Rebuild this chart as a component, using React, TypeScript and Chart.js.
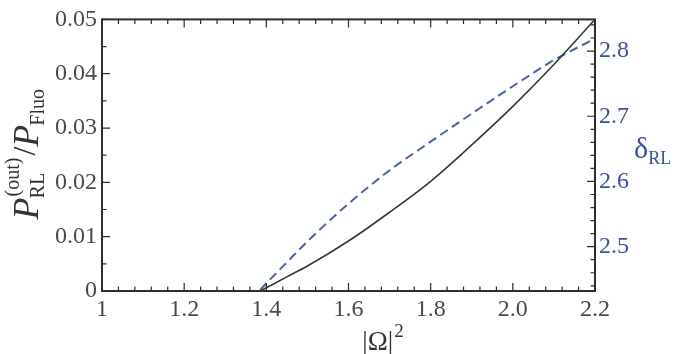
import React, { useEffect, useRef } from "react";
import { Chart, registerables } from "chart.js";

Chart.register(...registerables);

// |Omega|^2 values and P_RL(out)/P_Fluo (solid black curve, left axis)
const omegaSolid = [1.385, 1.45, 1.5, 1.6, 1.7, 1.8, 1.9, 2.0, 2.1, 2.2];
const powerRatio = [0, 0.0026, 0.0046, 0.0092, 0.0145, 0.0202, 0.0269, 0.034, 0.0417, 0.05];

// |Omega|^2 values and delta_RL (dashed blue curve, right axis)
const omegaDashed = [1.385, 1.45, 1.5, 1.6, 1.7, 1.8, 1.9, 2.0, 2.1, 2.2];
const deltaRL = [2.434, 2.476, 2.508, 2.566, 2.617, 2.661, 2.704, 2.746, 2.786, 2.819];

// tick values / labels
const xTicks = [1, 1.2, 1.4, 1.6, 1.8, 2.0, 2.2];
const xTickLabels = ["1", "1.2", "1.4", "1.6", "1.8", "2.0", "2.2"];
const leftTicks = [0, 0.01, 0.02, 0.03, 0.04, 0.05];
const leftTickLabels = ["0", "0.01", "0.02", "0.03", "0.04", "0.05"];
const rightTicks = [2.5, 2.6, 2.7, 2.8];
const rightTickLabels = ["2.5", "2.6", "2.7", "2.8"];

const X_MIN = 1;
const X_MAX = 2.2;
const X_MINOR_STEP = 0.04;
const L_MIN = 0;
const L_MAX = 0.05;
const L_MINOR_STEP = 0.005;
const R_MIN = 2.432;
const R_MAX = 2.8485;
const R_MINOR_FROM = 2.44;
const R_MINOR_TO = 2.84;
const R_MINOR_STEP = 0.02;

const SERIF = "'Liberation Serif', 'DejaVu Serif', 'Times New Roman', serif";
const GRAY_TEXT = "#4a4a4a";
const BLUE_TEXT = "#3a4fb3";
const FRAME = "#2e2e2e";

function minorValues(from: number, to: number, step: number) {
  const out: number[] = [];
  const n = Math.round((to - from) / step);
  for (let i = 0; i <= n; i++) out.push(from + i * step);
  return out;
}

const framePlugin = {
  id: "frameTicks",
  afterDatasetsDraw(chart: any) {
    const { ctx, chartArea: a, scales } = chart;
    const xs = scales.x;
    const yl = scales.yL;
    const yr = scales.yR;
    ctx.save();
    ctx.strokeStyle = FRAME;
    ctx.lineWidth = 1.2;
    const MAJ = 8;
    const MIN = 4.5;
    ctx.beginPath();
    for (const v of minorValues(X_MIN, X_MAX, X_MINOR_STEP)) {
      const px = xs.getPixelForValue(v);
      ctx.moveTo(px, a.bottom);
      ctx.lineTo(px, a.bottom - MIN);
      ctx.moveTo(px, a.top);
      ctx.lineTo(px, a.top + MIN);
    }
    for (const v of xTicks) {
      const px = xs.getPixelForValue(v);
      ctx.moveTo(px, a.bottom);
      ctx.lineTo(px, a.bottom - MAJ);
      ctx.moveTo(px, a.top);
      ctx.lineTo(px, a.top + MAJ);
    }
    for (const v of minorValues(L_MIN, L_MAX, L_MINOR_STEP)) {
      const py = yl.getPixelForValue(v);
      ctx.moveTo(a.left, py);
      ctx.lineTo(a.left + MIN, py);
    }
    for (const v of leftTicks) {
      const py = yl.getPixelForValue(v);
      ctx.moveTo(a.left, py);
      ctx.lineTo(a.left + MAJ, py);
    }
    for (const v of minorValues(R_MINOR_FROM, R_MINOR_TO, R_MINOR_STEP)) {
      const py = yr.getPixelForValue(v);
      ctx.moveTo(a.right, py);
      ctx.lineTo(a.right - MIN, py);
    }
    for (const v of rightTicks) {
      const py = yr.getPixelForValue(v);
      ctx.moveTo(a.right, py);
      ctx.lineTo(a.right - MAJ, py);
    }
    ctx.stroke();
    ctx.lineWidth = 2;
    ctx.strokeRect(a.left, a.top, a.right - a.left, a.bottom - a.top);
    ctx.restore();
  },
  afterDraw(chart: any) {
    const { ctx, chartArea: a } = chart;
    ctx.save();
    ctx.textBaseline = "alphabetic";
    ctx.textAlign = "left";

    // Left title: P_RL^(out) / P_Fluo  (rotated)
    const big = `italic 36px ${SERIF}`;
    const small = `20px ${SERIF}`;
    const slashFont = `32px ${SERIF}`;
    ctx.font = big;
    const wP = ctx.measureText("P").width;
    ctx.font = small;
    const wRL = ctx.measureText("RL").width;
    const wOut = ctx.measureText("(out)").width;
    const wFluo = ctx.measureText("Fluo").width;
    ctx.font = slashFont;
    const wSlash = ctx.measureText("/").width;
    const total = wP - 1 + Math.max(wRL, wOut + 2) + 2 + wSlash + wP - 1 + wFluo;
    const cy = (a.top + a.bottom) / 2 - 1;
    ctx.save();
    ctx.translate(38, cy);
    ctx.rotate(-Math.PI / 2);
    ctx.fillStyle = "#333";
    const x0 = -total / 2;
    ctx.font = big;
    ctx.fillText("P", x0, 0);
    const subX = x0 + wP - 1;
    ctx.font = small;
    ctx.fillText("RL", subX, 6);
    ctx.fillText("(out)", subX + 2, -19);
    let nx = subX + Math.max(wRL, wOut + 2) + 2;
    ctx.font = slashFont;
    ctx.fillText("/", nx, -3);
    nx += wSlash;
    ctx.font = big;
    ctx.fillText("P", nx, 0);
    nx += wP - 1;
    ctx.font = small;
    ctx.fillText("Fluo", nx, 6);
    ctx.restore();

    // Bottom title: |Ω|²
    const bFont = `27px ${SERIF}`;
    const bSup = `19px ${SERIF}`;
    ctx.font = bFont;
    const wO = ctx.measureText("|Ω|").width;
    ctx.font = bSup;
    const w2 = ctx.measureText("2").width;
    const bx = 383 - (wO + w2 + 1) / 2;
    ctx.fillStyle = "#333";
    ctx.font = bFont;
    ctx.fillText("|Ω|", bx, 350);
    ctx.font = bSup;
    ctx.fillText("2", bx + wO + 1, 337);

    // Right title: δ_RL
    ctx.fillStyle = BLUE_TEXT;
    ctx.font = `30px ${SERIF}`;
    const wd = ctx.measureText("δ").width;
    ctx.fillText("δ", 634, 158);
    ctx.font = `18px ${SERIF}`;
    ctx.fillText("RL", 634 + wd, 164);
    ctx.restore();
  },
};

export default function App() {
  const ref = useRef<HTMLCanvasElement | null>(null);
  useEffect(() => {
    if (!ref.current) return;
    const chart = new Chart(ref.current, {
      type: "line",
      data: {
        datasets: [
          {
            label: "P_RL/P_Fluo",
            data: omegaSolid.map((x, i) => ({ x, y: powerRatio[i] })),
            yAxisID: "yL",
            borderColor: "#383838",
            borderWidth: 1.6,
            pointRadius: 0,
            cubicInterpolationMode: "monotone",
            fill: false,
          },
          {
            label: "delta_RL",
            data: omegaDashed.map((x, i) => ({ x, y: deltaRL[i] })),
            yAxisID: "yR",
            borderColor: "#4561c4",
            borderWidth: 2,
            borderDash: [9, 5],
            pointRadius: 0,
            cubicInterpolationMode: "monotone",
            fill: false,
          },
        ],
      },
      options: {
        animation: false,
        responsive: true,
        maintainAspectRatio: false,
        layout: { padding: { top: 10, left: 0, right: 0, bottom: 0 } },
        plugins: {
          legend: { display: false },
          tooltip: { enabled: false },
        },
        scales: {
          x: {
            type: "linear",
            min: X_MIN,
            max: X_MAX,
            afterBuildTicks: (s: any) => {
              s.ticks = xTicks.map((v) => ({ value: v }));
            },
            afterFit: (s: any) => {
              s.height = 63;
            },
            grid: { display: false, drawTicks: false },
            border: { display: false },
            ticks: {
              padding: 4,
              maxRotation: 0,
              autoSkip: false,
              color: GRAY_TEXT,
              font: { family: SERIF, size: 24 },
              callback: (_v: any, i: number) => xTickLabels[i],
            },
          },
          yL: {
            type: "linear",
            position: "left",
            min: L_MIN,
            max: L_MAX,
            afterBuildTicks: (s: any) => {
              s.ticks = leftTicks.map((v) => ({ value: v }));
            },
            afterFit: (s: any) => {
              s.width = 102;
            },
            grid: { display: false, drawTicks: false },
            border: { display: false },
            ticks: {
              padding: 5,
              autoSkip: false,
              color: GRAY_TEXT,
              font: { family: SERIF, size: 24 },
              callback: (_v: any, i: number) => leftTickLabels[i],
            },
          },
          yR: {
            type: "linear",
            position: "right",
            min: R_MIN,
            max: R_MAX,
            afterBuildTicks: (s: any) => {
              s.ticks = rightTicks.map((v) => ({ value: v }));
            },
            afterFit: (s: any) => {
              s.width = 88;
            },
            grid: { display: false, drawTicks: false },
            border: { display: false },
            ticks: {
              padding: 4,
              autoSkip: false,
              color: BLUE_TEXT,
              font: { family: SERIF, size: 24 },
              callback: (_v: any, i: number) => rightTickLabels[i],
            },
          },
        },
      },
      plugins: [framePlugin],
    });
    return () => chart.destroy();
  }, []);
  return (
    <div style={{ position: "absolute", left: 0, top: 0, width: 683, height: 354, background: "#fff" }}>
      <canvas ref={ref} />
    </div>
  );
}
